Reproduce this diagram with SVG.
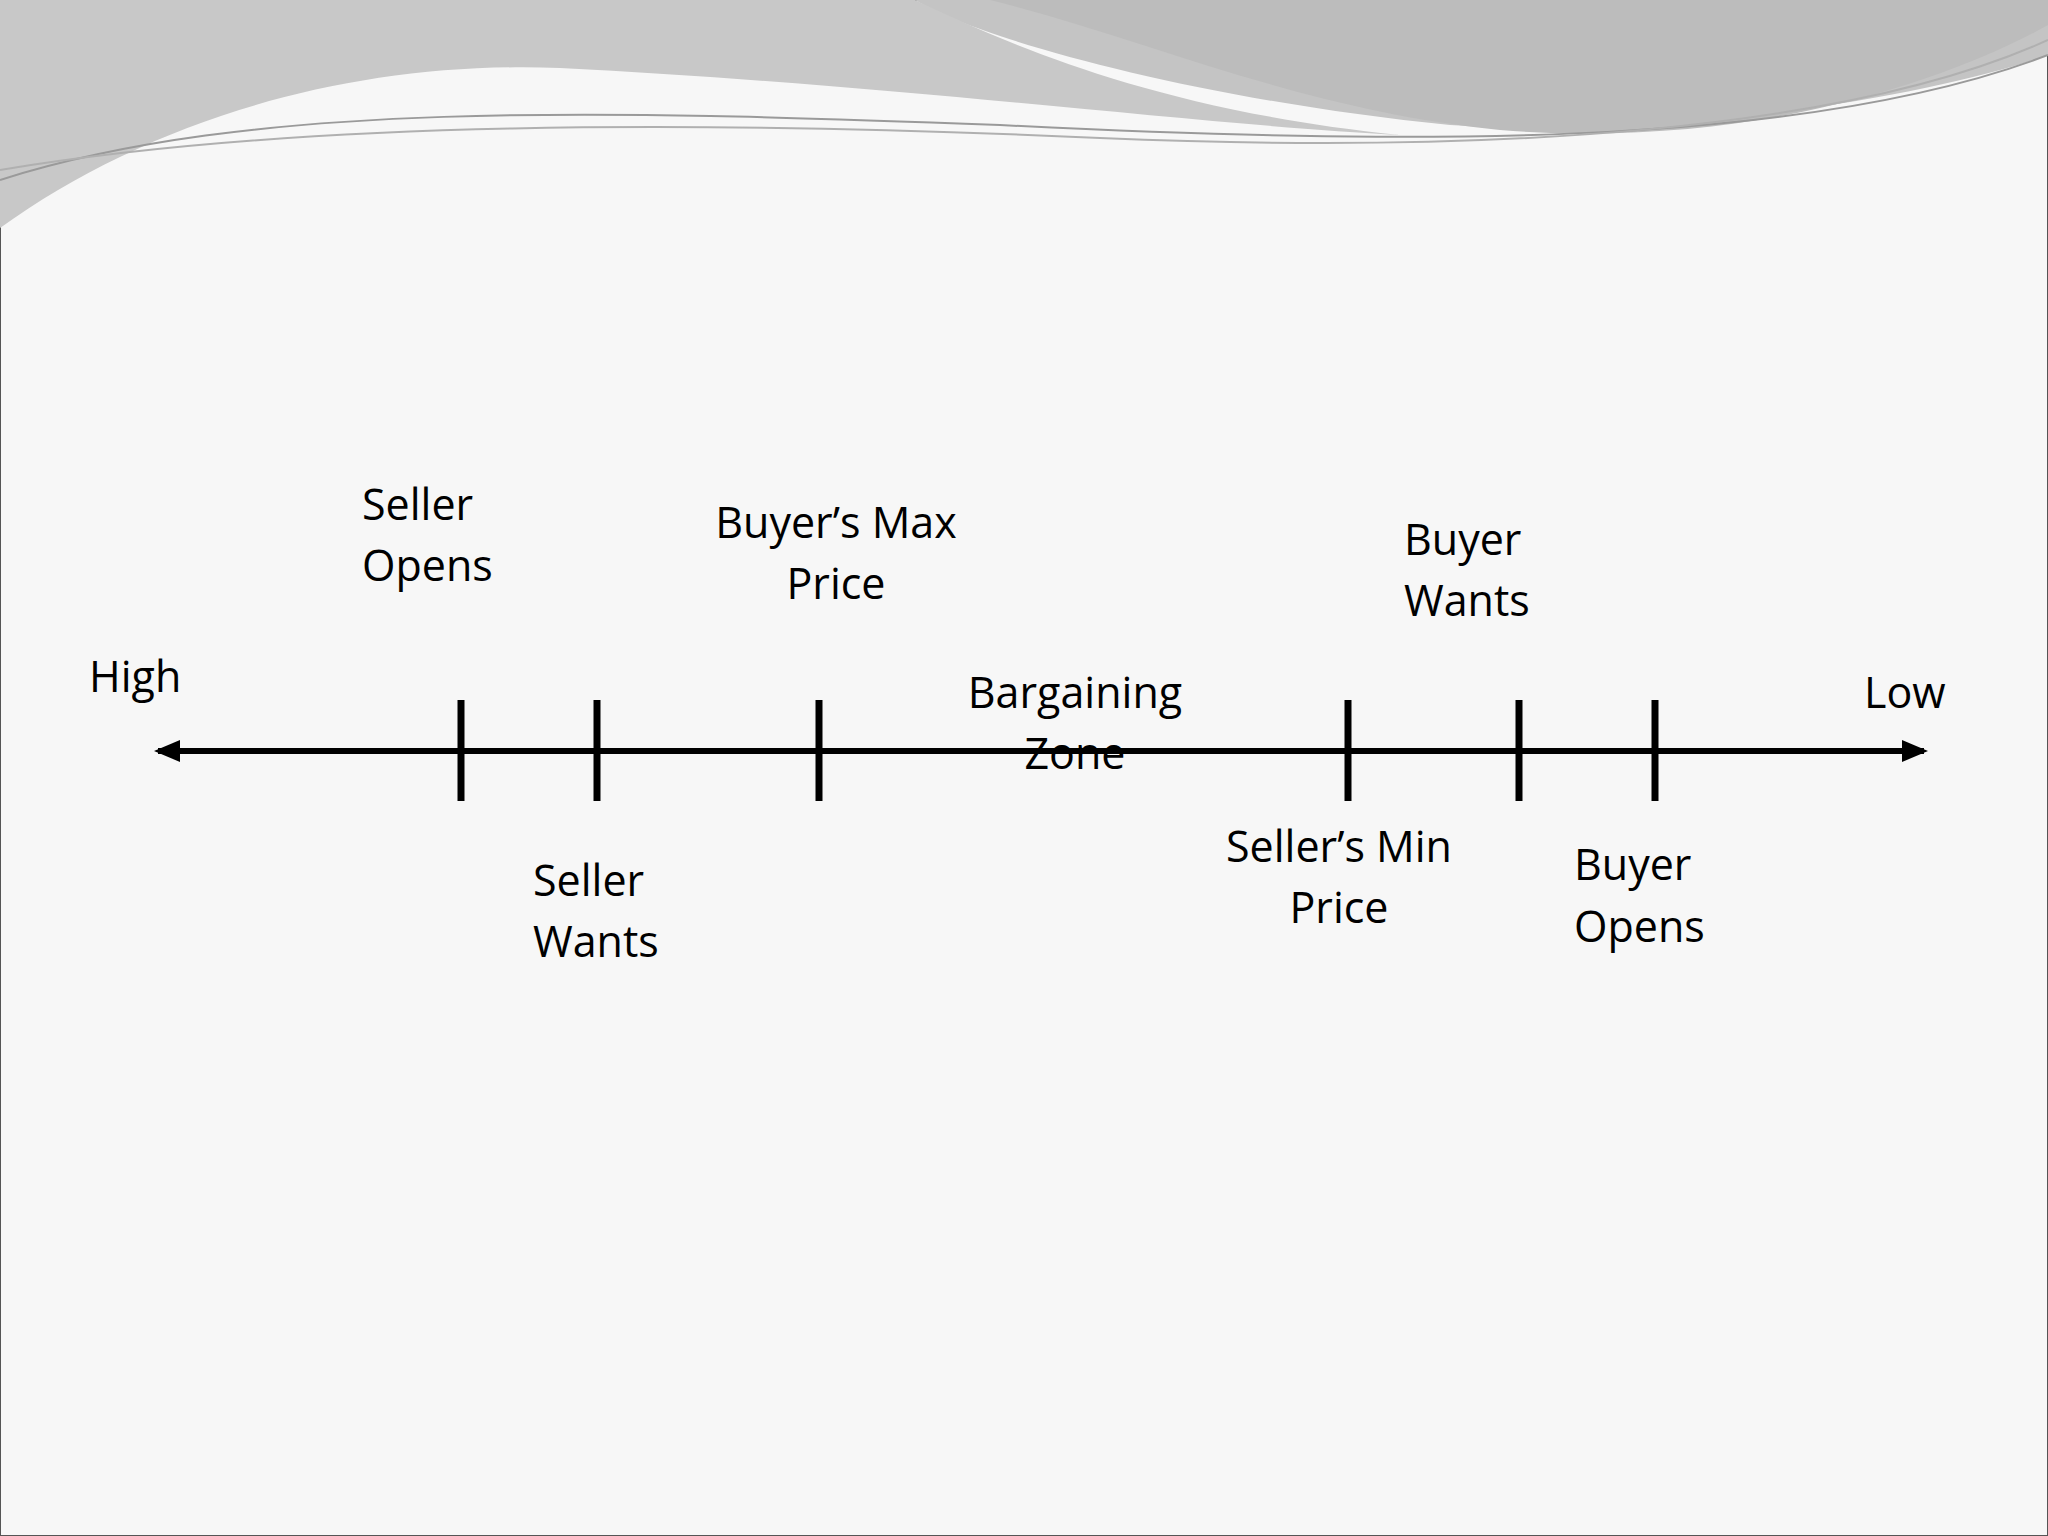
<svg xmlns="http://www.w3.org/2000/svg" width="2048" height="1536" viewBox="0 0 2048 1536">
<style>
.t{font-family:"Open Sans","Liberation Sans",sans-serif;font-size:43px;fill:#000}
.c{text-anchor:middle}
.tick{stroke:#000;stroke-width:7}
</style>
<defs>
<marker id="ah" markerWidth="26" markerHeight="22" refX="22" refY="11" orient="auto-start-reverse" markerUnits="userSpaceOnUse"><path d="M0,0 L26,11 L0,22 Z" fill="#000"/></marker>
</defs>
<rect x="0" y="0" width="2048" height="1536" fill="#f7f7f7" stroke="#555" stroke-width="2"/>
<g id="decor">
<path d="M0,0 H915 C980,40 1200,100 1450,125 C1700,140 1950,90 2048,55 V0 Z" fill="#c4c4c4"/>
<path d="M0,0 H915 C1000,40 1150,110 1400,135 C1200,125 900,85 560,68 C350,60 150,120 0,228 Z" fill="#c8c8c8"/>
<path d="M990,0 H2048 V25 C1950,80 1750,150 1500,130 C1300,110 1150,40 990,0 Z" fill="#bcbcbc"/>
<path d="M0,180 C250,100 600,110 1000,125 C1400,145 1800,150 2048,55" fill="none" stroke="#9a9a9a" stroke-width="2"/>
<path d="M0,170 C300,120 700,120 1100,138 C1500,155 1850,130 2048,40" fill="none" stroke="#b0b0b0" stroke-width="2"/>
</g>
<g id="connectors">
<line x1="158" y1="751" x2="1924" y2="751" stroke="#000" stroke-width="6" marker-start="url(#ah)" marker-end="url(#ah)"/>
</g>
<g id="ticks">
<line class="tick" x1="461" y1="700" x2="461" y2="801"/>
<line class="tick" x1="597" y1="700" x2="597" y2="801"/>
<line class="tick" x1="819" y1="700" x2="819" y2="801"/>
<line class="tick" x1="1348" y1="700" x2="1348" y2="801"/>
<line class="tick" x1="1519" y1="700" x2="1519" y2="801"/>
<line class="tick" x1="1655" y1="700" x2="1655" y2="801"/>
</g>
<g id="high"><text class="t" x="89" y="692">High</text></g>
<g id="low"><text class="t" x="1864" y="708">Low</text></g>
<g id="seller-opens"><text class="t" x="362" y="520">Seller</text><text class="t" x="362" y="581">Opens</text></g>
<g id="buyer-max"><text class="t c" x="836" y="538">Buyer’s Max</text><text class="t c" x="836" y="599">Price</text></g>
<g id="bargaining"><text class="t c" x="1075" y="708">Bargaining</text><text class="t c" x="1075" y="769">Zone</text></g>
<g id="buyer-wants"><text class="t" x="1404" y="555">Buyer</text><text class="t" x="1404" y="616">Wants</text></g>
<g id="seller-wants"><text class="t" x="533" y="896">Seller</text><text class="t" x="533" y="957">Wants</text></g>
<g id="seller-min"><text class="t c" x="1339" y="862">Seller’s Min</text><text class="t c" x="1339" y="923">Price</text></g>
<g id="buyer-opens"><text class="t" x="1574" y="880">Buyer</text><text class="t" x="1574" y="942">Opens</text></g>
</svg>
